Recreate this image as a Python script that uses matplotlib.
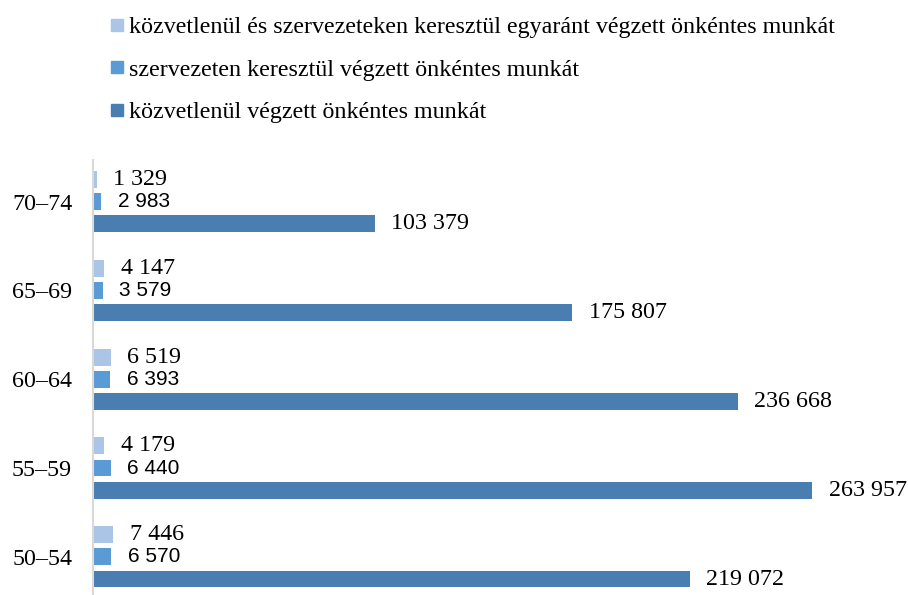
import matplotlib.pyplot as plt
from matplotlib.lines import Line2D
import numpy as np

# age groups, bottom to top
groups = ['50–54', '55–59', '60–64', '65–69', '70–74']
direct = [219072, 263957, 236668, 175807, 103379]
via_org = [6570, 6440, 6393, 3579, 2983]
both = [7446, 4179, 6519, 4147, 1329]

names = ['közvetlenül és szervezeteken keresztül egyaránt végzett önkéntes munkát',
         'szervezeten keresztül végzett önkéntes munkát',
         'közvetlenül végzett önkéntes munkát']
colors = ['#aac5e6', '#5b9bd5', '#4a7eb0']

serif = 'Liberation Serif'
sans = 'Liberation Sans'


def fmt(v):
    return '{:,}'.format(v).replace(',', ' ')


W, H = 908, 595
fig = plt.figure(figsize=(W / 100, H / 100), dpi=100)
# axes: left edge at x=93px, top at y=160px, runs off the bottom a bit
ax = fig.add_axes([93 / W, 0, (W - 93) / W, (H - 160) / H])

px_per_unit = (812 - 93) / 263957
ax.set_xlim(0, (W - 93) / px_per_unit)
ax.set_ylim(-0.43, 4.47)

y = np.arange(len(groups))
h = 0.19
series = [(both, 0.25), (via_org, 0.0), (direct, -0.25)]
for i, (vals, off) in enumerate(series):
    bars = ax.barh(y + off, vals, height=h, color=colors[i])
    fam = sans if i == 1 else serif
    size = 15 if i == 1 else 17.3
    ax.bar_label(bars, labels=[fmt(v) for v in vals], padding=12,
                 fontfamily=fam, fontsize=size, color='black')

ax.set_yticks(y)
ax.set_yticklabels(groups, fontfamily=serif, fontsize=17.3)
ax.tick_params(axis='y', length=0, pad=15)
ax.set_xticks([])
for s in ['top', 'right', 'bottom']:
    ax.spines[s].set_visible(False)
ax.spines['left'].set_color('#d9d9d9')
ax.spines['left'].set_linewidth(1.5)

handles = [Line2D([], [], marker='s', linestyle='none', markersize=8,
                  markerfacecolor=c, markeredgecolor=c) for c in colors]
fig.legend(handles, names, loc='upper left', bbox_to_anchor=(100 / W, 1 - 7 / H),
           frameon=False, prop={'family': serif, 'size': 17.3},
           handlelength=0.6, handletextpad=0.2, labelspacing=0.85,
           borderaxespad=0)

fig.savefig('out.png', dpi=100)
